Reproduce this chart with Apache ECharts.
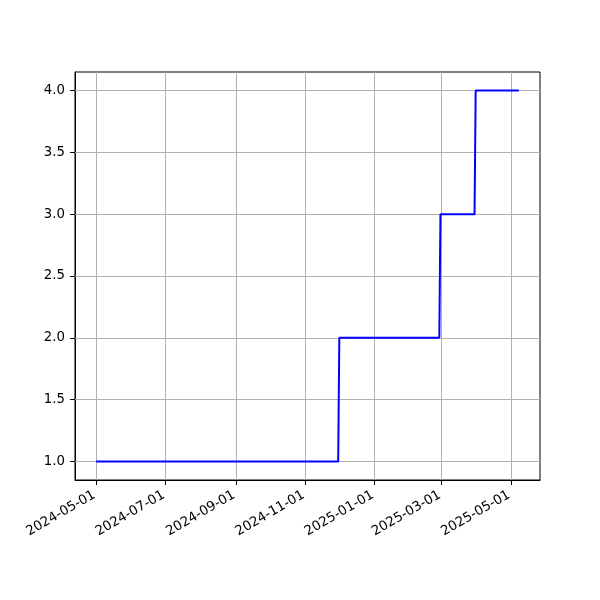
<!DOCTYPE html>
<html>
<head>
<meta charset="utf-8">
<script src="https://cdn.jsdelivr.net/npm/echarts@6/dist/echarts.min.js"></script>
<style>html,body{margin:0;padding:0;background:#fff}#c{width:600px;height:600px}</style>
</head>
<body>
<div id="c"></div>
<script>
var dates = ['2024-05-01','2024-11-30','2024-12-01','2025-02-27','2025-02-28','2025-03-30','2025-03-31','2025-05-08'];
var values = [1, 1, 2, 2, 3, 3, 4, 4];
var xTickLabels = ['2024-05-01','2024-07-01','2024-09-01','2024-11-01','2025-01-01','2025-03-01','2025-05-01'];
var yTicks = [1.0, 1.5, 2.0, 2.5, 3.0, 3.5, 4.0];

function ts(s){ var p=s.split('-'); return Date.UTC(+p[0], +p[1]-1, +p[2]); }
var tx = dates.map(ts);
var x0 = Math.min.apply(null, tx), x1 = Math.max.apply(null, tx);
var xm = (x1 - x0) * 0.05;
var y0 = Math.min.apply(null, values), y1 = Math.max.apply(null, values);
var ym = (y1 - y0) * 0.05;
var xTickVals = xTickLabels.map(ts);

var chart = echarts.init(document.getElementById('c'), null, {renderer:'canvas'});
var font = 'DejaVu Sans';
chart.setOption({
  animation: false,
  grid: {left: 75, right: 60, top: 72, bottom: 120, show: true, borderColor: '#000', borderWidth: 1, backgroundColor: 'transparent'},
  xAxis: {
    type: 'value', min: x0 - xm, max: x1 + xm,
    axisLine: {show: true, onZero: false, lineStyle: {color: '#000', width: 1}},
    axisTick: {show: true, length: 5, lineStyle: {color: '#000'}, customValues: xTickVals},
    axisLabel: {customValues: xTickVals, rotate: 30, margin: 13, padding: [0, 2, 0, 0], color: '#000', fontFamily: font, fontSize: 13.3,
      formatter: function(v){ var d=new Date(v); var m=d.getUTCMonth()+1, dd=d.getUTCDate(); return d.getUTCFullYear()+'-'+(m<10?'0':'')+m+'-'+(dd<10?'0':'')+dd; }},
    splitLine: {show: false}
  },
  yAxis: {
    type: 'value', min: y0 - ym, max: y1 + ym,
    axisLine: {show: true, onZero: false, lineStyle: {color: '#000', width: 1}},
    axisTick: {show: true, length: 5, lineStyle: {color: '#000'}, customValues: yTicks},
    axisLabel: {customValues: yTicks, margin: 10, color: '#000', fontFamily: font, fontSize: 13.3,
      formatter: function(v){ return v.toFixed(1); }},
    splitLine: {show: false}
  },
  series: [{
    type: 'line',
    data: tx.map(function(t,i){ return [t, values[i]]; }),
    showSymbol: false, symbol: 'none',
    lineStyle: {color: '#0000ff', width: 2},
    z: 5,
    markLine: {
      silent: true, symbol: 'none', label: {show: false}, animation: false,
      lineStyle: {color: '#b0b0b0', width: 1, type: 'solid'},
      data: xTickVals.map(function(v){ return {xAxis: v}; }).concat(yTicks.map(function(v){ return {yAxis: v}; }))
    }
  }]
});
</script>
</body>
</html>
